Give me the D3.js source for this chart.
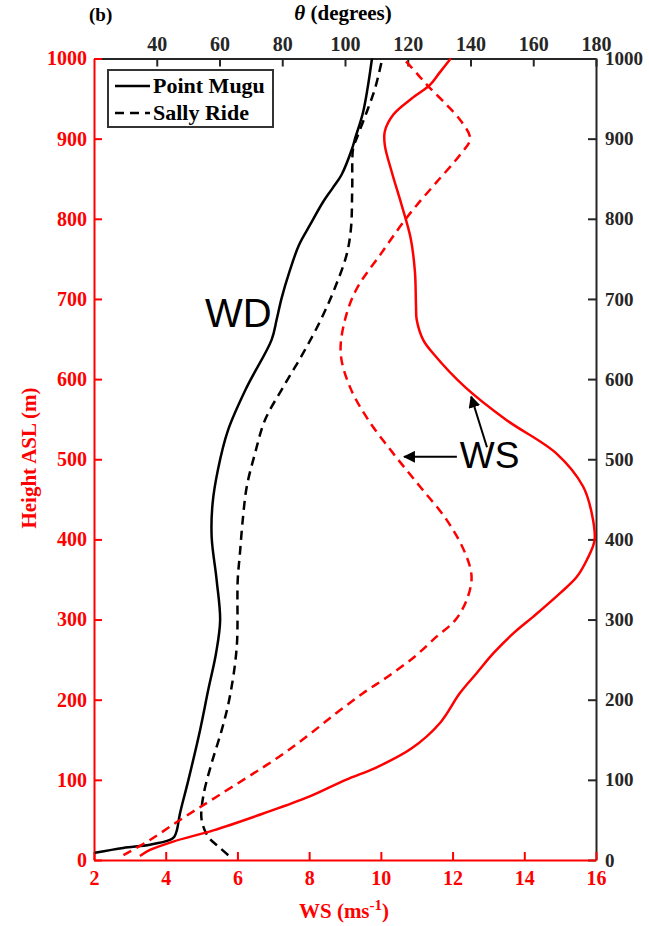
<!DOCTYPE html>
<html lang="en">
<head>
<meta charset="utf-8">
<title>WS and WD profiles</title>
<script src="https://d3js.org/d3.v7.min.js"></script>
<style>
  body { margin: 0; background: #fff; }
  svg text { font-family: "Liberation Serif", "Times New Roman", serif; font-weight: bold; }
  .ann { font-family: "Liberation Sans", Arial, sans-serif; font-weight: normal; }
</style>
</head>
<body>
<script>
// ---- data ----
// Point Mugu wind direction (theta, degrees) vs height (m)
var mugWdH = [9, 15, 19, 25, 29, 37, 58, 100, 162, 212, 258, 299, 349, 403, 445, 487, 536, 590, 649, 674, 701, 734, 767, 792, 821, 838, 855, 888, 900, 932, 963, 1000];
var mugWd  = [20.3, 29.3, 37.8, 44.2, 45.6, 46.4, 47.4, 50.1, 53.8, 56.4, 58.9, 60.2, 59.1, 57.5, 57.8, 59.5, 62.7, 68.7, 76.6, 78.2, 79.8, 82.3, 85.3, 88.8, 93.0, 96.0, 98.9, 102.3, 103.2, 105.7, 107.2, 108.6];
// Sally Ride wind direction
var salWdH = [6, 17, 29, 50, 79, 121, 162, 204, 266, 349, 382, 424, 466, 507, 549, 590, 632, 674, 714, 755, 788, 838, 888, 900, 933, 963, 1000];
var salWd  = [62.8, 59.6, 56.4, 54.3, 54.8, 57.5, 60.7, 63.3, 65.5, 65.8, 66.5, 67.4, 68.7, 71.3, 74.5, 80.3, 86.6, 92.3, 96.8, 100.5, 101.9, 102.3, 102.6, 103.7, 106.9, 109.6, 111.9];
// Point Mugu wind speed (m/s)
var mugWsH = [5, 12.5, 23, 37, 58, 79, 100, 116, 139, 171, 208, 233, 258, 283, 304, 333, 353, 374, 399, 433, 466, 507, 549, 590, 632, 649, 674, 692, 734, 776, 817, 859, 892, 909, 930, 950, 967, 983, 1000];
var mugWs  = [3.28, 3.56, 4.21, 5.33, 6.72, 8.0, 9.02, 9.9, 10.85, 11.65, 12.2, 12.67, 13.14, 13.7, 14.26, 15.0, 15.46, 15.74, 15.96, 15.88, 15.64, 14.9, 13.5, 12.35, 11.46, 11.18, 11.0, 10.98, 10.95, 10.83, 10.58, 10.3, 10.11, 10.11, 10.35, 10.86, 11.37, 11.65, 11.95];
// Sally Ride wind speed
var salWsH = [6, 25, 50, 79, 127, 154, 183, 208, 229, 254, 279, 299, 324, 353, 383, 424, 466, 507, 549, 590, 632, 674, 713, 755, 796, 817, 846, 880, 900, 921, 942, 963, 979, 1000];
var salWs  = [2.82, 3.56, 4.4, 5.42, 7.1, 7.93, 8.75, 9.5, 10.2, 10.95, 11.56, 12.07, 12.39, 12.53, 12.35, 11.84, 11.09, 10.35, 9.65, 9.14, 8.88, 9.0, 9.33, 9.98, 10.63, 11.0, 11.56, 12.21, 12.49, 12.25, 11.84, 11.37, 11.05, 10.63];

var wsTicks = [2, 4, 6, 8, 10, 12, 14, 16];
var thTicks = [40, 60, 80, 100, 120, 140, 160, 180];
var hTicks = d3.range(0, 1001, 100);
var seriesNames = ["Point Mugu", "Sally Ride"];

// ---- layout ----
var w = 649, h = 926;
var plotL = 94, plotR = 596, plotT = 58.5, plotB = 860;
var red = "#ff0000", dark = "#262626";

var svg = d3.select("body").append("svg")
    .attr("width", w)
    .attr("height", h);

var xWs = d3.scaleLinear().domain([2, 16]).range([plotL, plotR]);
var xTh = d3.scaleLinear().domain([20, 180]).range([plotL, plotR]);
var y = d3.scaleLinear().domain([0, 1000]).range([plotB, plotT]);

function styleAxis(g, col, size) {
  g.select(".domain").attr("stroke", col).attr("stroke-width", 2);
  g.selectAll(".tick line").attr("stroke", col).attr("stroke-width", 2);
  g.selectAll(".tick text").attr("fill", col).style("font-size", size + "px")
    .style("font-family", "'Liberation Serif', serif").style("font-weight", "bold");
}
var fmt = d3.format("d");

// top (theta) and right axes in dark grey
var gTop = svg.append("g").attr("transform", "translate(0," + plotT + ")")
    .call(d3.axisTop(xTh).tickValues(thTicks).tickFormat(fmt).tickSize(-8).tickPadding(8).tickSizeOuter(0));
styleAxis(gTop, dark, 20);
var gRight = svg.append("g").attr("transform", "translate(" + plotR + ",0)")
    .call(d3.axisRight(y).tickValues(hTicks).tickFormat(fmt).tickSize(-8).tickPadding(9).tickSizeOuter(0));
styleAxis(gRight, dark, 19);

// left and bottom in red
var gLeft = svg.append("g").attr("transform", "translate(" + plotL + ",0)")
    .call(d3.axisLeft(y).tickValues(hTicks).tickFormat(fmt).tickSize(-8).tickPadding(7).tickSizeOuter(0));
styleAxis(gLeft, red, 20);
var gBottom = svg.append("g").attr("transform", "translate(0," + plotB + ")")
    .call(d3.axisBottom(xWs).tickValues(wsTicks).tickFormat(fmt).tickSize(-8).tickPadding(11).tickSizeOuter(0));
styleAxis(gBottom, red, 20);

// ---- curves ----
function pts(hs, vs) { return hs.map(function(d, i) { return [vs[i], d]; }); }
var lineWs = d3.line().x(function(d) { return xWs(d[0]); }).y(function(d) { return y(d[1]); })
    .curve(d3.curveCatmullRom.alpha(0.5));
var lineTh = d3.line().x(function(d) { return xTh(d[0]); }).y(function(d) { return y(d[1]); })
    .curve(d3.curveCatmullRom.alpha(0.5));

svg.append("path").attr("d", lineTh(pts(mugWdH, mugWd)))
    .attr("fill", "none").attr("stroke", "#000").attr("stroke-width", 2.5);
svg.append("path").attr("d", lineTh(pts(salWdH, salWd)))
    .attr("fill", "none").attr("stroke", "#000").attr("stroke-width", 2.5).attr("stroke-dasharray", "9,6");
svg.append("path").attr("d", lineWs(pts(mugWsH, mugWs)))
    .attr("fill", "none").attr("stroke", red).attr("stroke-width", 2.5);
svg.append("path").attr("d", lineWs(pts(salWsH, salWs)))
    .attr("fill", "none").attr("stroke", red).attr("stroke-width", 2.5).attr("stroke-dasharray", "9,6");

// ---- axis titles ----
svg.append("text").attr("x", 89).attr("y", 21).style("font-size", "19px").text("(b)");
var tt = svg.append("text").attr("x", 343).attr("y", 20).attr("text-anchor", "middle").style("font-size", "21px");
tt.append("tspan").style("font-style", "italic").text("θ");
tt.append("tspan").text(" (degrees)");

var bt = svg.append("text").attr("x", 344).attr("y", 918).attr("text-anchor", "middle")
    .attr("fill", red).style("font-size", "21px");
bt.append("tspan").text("WS (ms");
bt.append("tspan").attr("dy", -8).style("font-size", "15px").text("-1");
bt.append("tspan").attr("dy", 8).text(")");

svg.append("text").attr("transform", "translate(36,458) rotate(-90)")
    .attr("text-anchor", "middle").attr("fill", red).style("font-size", "21px")
    .text("Height ASL (m)");

// ---- legend ----
var lg = svg.append("g");
lg.append("rect").attr("x", 108).attr("y", 70).attr("width", 165).attr("height", 57)
    .attr("fill", "#fff").attr("stroke", "#333").attr("stroke-width", 2);
seriesNames.forEach(function(name, i) {
  var ly = 86 + i * 27;
  lg.append("line").attr("x1", 115).attr("x2", 150).attr("y1", ly).attr("y2", ly)
      .attr("stroke", "#000").attr("stroke-width", 2.5)
      .attr("stroke-dasharray", i === 1 ? "9,6" : null);
  lg.append("text").attr("x", 153).attr("y", ly + 7).style("font-size", "22px").text(name);
});

// ---- annotations ----
svg.append("defs").append("marker").attr("id", "ah")
    .attr("viewBox", "0 0 10 10").attr("refX", 9).attr("refY", 5)
    .attr("markerWidth", 6).attr("markerHeight", 6).attr("orient", "auto")
    .append("path").attr("d", "M0,0L10,5L0,10z").attr("fill", "#000");

svg.append("text").attr("class", "ann").attr("x", xTh(55.4)).attr("y", y(665))
    .style("font-size", "40px").text("WD");
svg.append("text").attr("class", "ann").attr("x", xWs(12.2)).attr("y", y(489))
    .style("font-size", "37px").text("WS");
svg.append("line").attr("x1", xWs(12.12)).attr("y1", y(503)).attr("x2", xWs(10.65)).attr("y2", y(503))
    .attr("stroke", "#000").attr("stroke-width", 2).attr("marker-end", "url(#ah)");
svg.append("line").attr("x1", xWs(12.96)).attr("y1", y(515)).attr("x2", xWs(12.52)).attr("y2", y(578))
    .attr("stroke", "#000").attr("stroke-width", 2).attr("marker-end", "url(#ah)");
</script>
</body>
</html>
